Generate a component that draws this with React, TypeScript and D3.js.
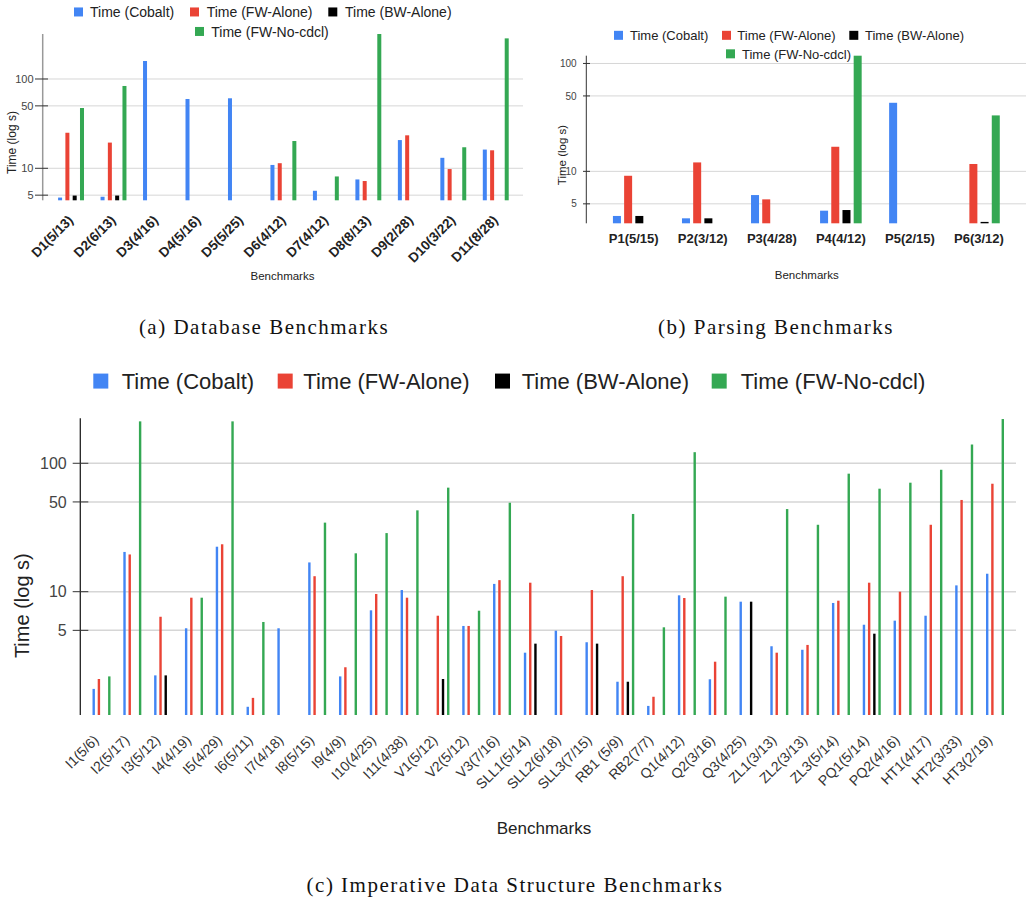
import React from "react";
import * as d3 from "d3";

// ---------- shared series ----------
const seriesNames = ["Time (Cobalt)", "Time (FW-Alone)", "Time (BW-Alone)", "Time (FW-No-cdcl)"];
const seriesColors = ["#4285F4", "#EA4335", "#000000", "#34A853"];
const tickValues = [5, 10, 50, 100];

// ---------- (a) Database ----------
const dbCategories = ["D1(5/13)", "D2(6/13)", "D3(4/16)", "D4(5/16)", "D5(5/25)", "D6(4/12)", "D7(4/12)", "D8(8/13)", "D9(2/28)", "D10(3/22)", "D11(8/28)"];
const dbCobalt = [4.7, 4.8, 159, 59.7, 60.8, 10.9, 5.6, 7.5, 20.7, 13.1, 16.2];
const dbFwAlone = [25.0, 19.4, null, null, null, 11.4, null, 7.2, 23.4, 9.8, 15.9];
const dbBwAlone = [4.95, 4.95, null, null, null, null, null, null, null, null, null];
const dbFwNoCdcl = [47.3, 83.5, null, null, null, 20.2, 8.1, 319, null, 17.2, 285];

// ---------- (b) Parsing ----------
const parseCategories = ["P1(5/15)", "P2(3/12)", "P3(4/28)", "P4(4/12)", "P5(2/15)", "P6(3/12)"];
const parseCobalt = [3.86, 3.67, 6.03, 4.32, 43.2, null];
const parseFwAlone = [9.1, 12.1, 5.5, 16.9, null, 11.7];
const parseBwAlone = [3.86, 3.67, null, 4.38, null, 3.4];
const parseFwNoCdcl = [null, null, null, 118, null, 33.0];

// ---------- (c) Imperative data structures ----------
const impCategories = ["I1(5/6)", "I2(5/17)", "I3(5/12)", "I4(4/19)", "I5(4/29)", "I6(5/11)", "I7(4/18)", "I8(5/15)", "I9(4/9)", "I10(4/25)", "I11(4/38)", "V1(5/12)", "V2(5/12)", "V3(7/16)", "SLL1(5/14)", "SLL2(6/18)", "SLL3(7/15)", "RB1 (5/9)", "RB2(7/7)", "Q1(4/12)", "Q2(3/16)", "Q3(4/25)", "ZL1(3/13)", "ZL2(3/13)", "ZL3(5/14)", "PQ1(5/14)", "PQ2(4/16)", "HT1(4/17)", "HT2(3/33)", "HT3(2/19)"];
const impCobalt = [1.75, 20.4, 2.23, 5.19, 22.4, 1.27, 5.19, 16.9, 2.19, 7.16, 10.3, null, 5.41, 11.5, 3.35, 4.97, 4.04, 1.99, 1.29, 9.37, 2.08, 8.36, 3.76, 3.53, 8.17, 5.53, 5.95, 6.5, 11.2, 13.8];
const impFwAlone = [2.09, 19.5, 6.38, 8.98, 23.4, 1.49, null, 13.2, 2.58, 9.6, 8.98, 6.5, 5.41, 12.3, 11.75, 4.52, 10.3, 13.2, 1.52, 8.93, 2.85, null, 3.35, 3.85, 8.51, 11.75, 10.0, 33.2, 51.8, 69.3];
const impBwAlone = [null, null, 2.23, null, null, null, null, null, null, null, null, 2.09, null, null, 3.94, null, 3.94, 1.99, null, null, null, 8.36, null, null, null, 4.71, null, null, null, null];
const impFwNoCdcl = [2.19, 212, null, 8.98, 212, 5.81, null, 34.5, 19.9, 28.6, 43, 64.6, 7.11, 49.3, null, null, null, 40.3, 5.28, 122, 9.15, null, 44, 33.2, 83, 63.4, 70.6, 89, 140, 221];

const captions = ["(a) Database Benchmarks", "(b) Parsing Benchmarks", "(c) Imperative Data Structure Benchmarks"];

type Cfg = {
  categories: string[];
  series: (number | null)[][];
  xRange: [number, number];
  slot: number;
  barW: number;
  yDomain: [number, number];
  yRange: [number, number];
  axisX: number;
  gridRight: number;
  axisColor: string;
  axisW: number;
  gridW: number;
  tickFont: number;
  tickRight: number;
  tickMark: [number, number];
  xLabel: { rotate: boolean; font: number; weight: string; color: string; dx: number; y: number };
  yTitle: { x: number; y: number; font: number };
  xTitle: { x: number; y: number; font: number };
  legend: { font: number; sq: number; items: { sx: number; tx: number; base: number }[] };
};

const FONT = "'Liberation Sans', Arial, sans-serif";

const panels: Cfg[] = [
  {
    categories: dbCategories,
    series: [dbCobalt, dbFwAlone, dbBwAlone, dbFwNoCdcl],
    xRange: [49.8, 517],
    slot: 7.3,
    barW: 4,
    yDomain: [4.38, 319],
    yRange: [200.3, 34],
    axisX: 42.7,
    gridRight: 523,
    axisColor: "#999",
    axisW: 1.5,
    gridW: 1,
    tickFont: 11,
    tickRight: 33.5,
    tickMark: [35, 48],
    xLabel: { rotate: true, font: 13.5, weight: "bold", color: "#222", dx: 3, y: 221 },
    yTitle: { x: 16, y: 142.5, font: 12 },
    xTitle: { x: 282.5, y: 280, font: 11.5 },
    legend: {
      font: 14,
      sq: 9,
      items: [
        { sx: 74, tx: 90, base: 17 },
        { sx: 190, tx: 206.7, base: 17 },
        { sx: 328.3, tx: 345, base: 17 },
        { sx: 195, tx: 211.3, base: 36.5 },
      ],
    },
  },
  {
    categories: parseCategories,
    series: [parseCobalt, parseFwAlone, parseBwAlone, parseFwNoCdcl],
    xRange: [599.2, 1013.5],
    slot: 11.2,
    barW: 8,
    yDomain: [3.3, 118],
    yRange: [223.3, 55.7],
    axisX: 586.3,
    gridRight: 1026,
    axisColor: "#333",
    axisW: 1,
    gridW: 1,
    tickFont: 10,
    tickRight: 576.7,
    tickMark: [583, 590],
    xLabel: { rotate: false, font: 13, weight: "bold", color: "#222", dx: 0, y: 243.3 },
    yTitle: { x: 565.8, y: 155, font: 11.5 },
    xTitle: { x: 806.7, y: 279, font: 11.5 },
    legend: {
      font: 13,
      sq: 9,
      items: [
        { sx: 614, tx: 630, base: 40 },
        { sx: 722, tx: 737.3, base: 40 },
        { sx: 849.3, tx: 865, base: 40 },
        { sx: 726, tx: 742, base: 58.5 },
      ],
    },
  },
  {
    categories: impCategories,
    series: [impCobalt, impFwAlone, impBwAlone, impFwNoCdcl],
    xRange: [86.1, 1010.4],
    slot: 5.2,
    barW: 2.4,
    yDomain: [1.096, 224],
    yRange: [715, 418.3],
    axisX: 80.3,
    gridRight: 1016,
    axisColor: "#222",
    axisW: 1.3,
    gridW: 1.5,
    tickFont: 16,
    tickRight: 66.7,
    tickMark: [72.7, 88.3],
    xLabel: { rotate: true, font: 14, weight: "normal", color: "#333", dx: -2, y: 741 },
    yTitle: { x: 29, y: 605.7, font: 20 },
    xTitle: { x: 544, y: 834, font: 17 },
    legend: {
      font: 22,
      sq: 15,
      items: [
        { sx: 93.3, tx: 121.7, base: 389 },
        { sx: 277.7, tx: 303.3, base: 389 },
        { sx: 495, tx: 521.7, base: 389 },
        { sx: 711.7, tx: 740.7, base: 389 },
      ],
    },
  },
];

const captionPos = [
  { x: 264, y: 334 },
  { x: 776, y: 334 },
  { x: 515, y: 892 },
];

function Panel({ cfg }: { cfg: Cfg }) {
  const x = d3.scaleBand<string>().domain(cfg.categories).range(cfg.xRange).paddingInner(0).paddingOuter(0);
  const y = d3.scaleLog().domain(cfg.yDomain).range(cfg.yRange).clamp(true);
  const base = y(cfg.yDomain[0]);
  const top = y(cfg.yDomain[1]);
  const center = (c: string) => (x(c) as number) + x.bandwidth() / 2;
  const nS = cfg.series.length;
  return (
    <g>
      {tickValues.map((t) => (
        <line key={"g" + t} x1={cfg.axisX} x2={cfg.gridRight} y1={y(t)} y2={y(t)} stroke="#d6d6d6" strokeWidth={cfg.gridW} />
      ))}
      {cfg.series.map((vals, k) =>
        vals.map((v, i) => {
          if (v == null) return null;
          const cx = center(cfg.categories[i]) + (k - (nS - 1) / 2) * cfg.slot;
          const yt = y(v);
          return (
            <rect key={k + "-" + i} x={cx - cfg.barW / 2} y={yt} width={cfg.barW} height={Math.max(0, base - yt)} fill={seriesColors[k]} />
          );
        })
      )}
      <line x1={cfg.axisX} x2={cfg.axisX} y1={top} y2={base} stroke={cfg.axisColor} strokeWidth={cfg.axisW} />
      {tickValues.map((t) => (
        <g key={"t" + t}>
          <line x1={cfg.tickMark[0]} x2={cfg.tickMark[1]} y1={y(t)} y2={y(t)} stroke="#333" strokeWidth={1} />
          <text x={cfg.tickRight} y={y(t) + cfg.tickFont * 0.36} fontSize={cfg.tickFont} textAnchor="end" fill="#444">
            {t}
          </text>
        </g>
      ))}
      {cfg.categories.map((c) => {
        const cx = center(c) + cfg.xLabel.dx;
        return cfg.xLabel.rotate ? (
          <text
            key={"x" + c}
            x={cx}
            y={cfg.xLabel.y}
            fontSize={cfg.xLabel.font}
            fontWeight={cfg.xLabel.weight}
            fill={cfg.xLabel.color}
            textAnchor="end"
            transform={`rotate(-45 ${cx} ${cfg.xLabel.y})`}
          >
            {c}
          </text>
        ) : (
          <text key={"x" + c} x={cx} y={cfg.xLabel.y} fontSize={cfg.xLabel.font} fontWeight={cfg.xLabel.weight} fill={cfg.xLabel.color} textAnchor="middle">
            {c}
          </text>
        );
      })}
      <text
        x={cfg.yTitle.x}
        y={cfg.yTitle.y}
        fontSize={cfg.yTitle.font}
        fill="#222"
        textAnchor="middle"
        transform={`rotate(-90 ${cfg.yTitle.x} ${cfg.yTitle.y})`}
      >
        Time (log s)
      </text>
      <text x={cfg.xTitle.x} y={cfg.xTitle.y} fontSize={cfg.xTitle.font} fill="#222" textAnchor="middle">
        Benchmarks
      </text>
      {seriesNames.map((name, k) => {
        const it = cfg.legend.items[k];
        const sq = cfg.legend.sq;
        const capMid = it.base - cfg.legend.font * 0.36;
        return (
          <g key={"l" + k}>
            <rect x={it.sx} y={capMid - sq / 2} width={sq} height={sq} fill={seriesColors[k]} />
            <text x={it.tx} y={it.base} fontSize={cfg.legend.font} fill="#222">
              {name}
            </text>
          </g>
        );
      })}
    </g>
  );
}

export default function App() {
  return (
    <svg
      width={1028}
      height={901}
      viewBox="0 0 1028 901"
      style={{ position: "absolute", left: 0, top: 0, background: "#fff" }}
      fontFamily={FONT}
    >
      <rect x={0} y={0} width={1028} height={901} fill="#fff" />
      {panels.map((p, i) => (
        <Panel key={i} cfg={p} />
      ))}
      {captions.map((c, i) => (
        <text
          key={"c" + i}
          x={captionPos[i].x}
          y={captionPos[i].y}
          fontFamily="'Liberation Serif', 'Times New Roman', serif"
          fontSize={21}
          letterSpacing={1.5}
          textAnchor="middle"
          fill="#111"
        >
          {c}
        </text>
      ))}
    </svg>
  );
}
